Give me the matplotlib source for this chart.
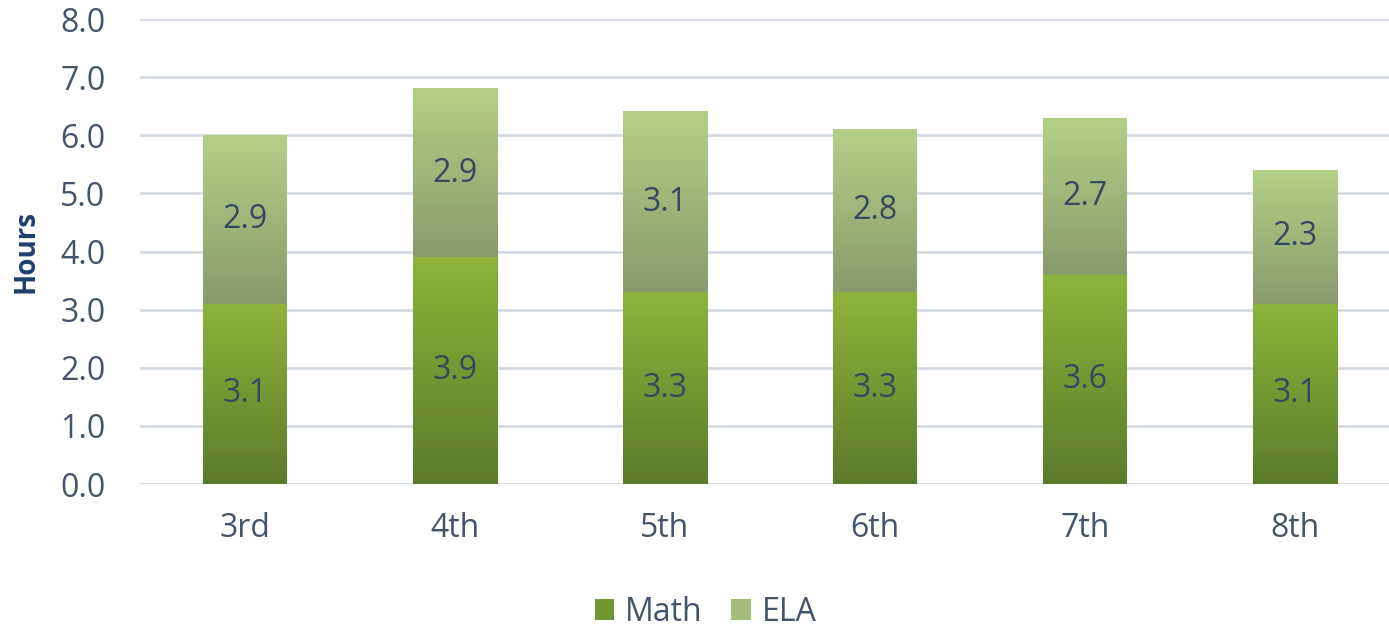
import numpy as np
import matplotlib
matplotlib.use('Agg')
import matplotlib.pyplot as plt
from matplotlib.colors import LinearSegmentedColormap
from matplotlib.patches import Patch

grades = ['3rd', '4th', '5th', '6th', '7th', '8th']
math_hours = [3.1, 3.9, 3.3, 3.3, 3.6, 3.1]
ela_hours = [2.9, 2.9, 3.1, 2.8, 2.7, 2.3]

plt.rcParams['font.family'] = ['Open Sans', 'DejaVu Sans']
text_col = '#44546a'
label_col = '#34495e'

math_cmap = LinearSegmentedColormap.from_list('m', ['#5b7b2b', '#8cb43a'])
ela_cmap = LinearSegmentedColormap.from_list('e', ['#8a9a6c', '#b4d087'])

fig = plt.figure(figsize=(13.89, 6.30), dpi=100)
# axes spans a bit past the right edge, like the reference
ax = fig.add_axes([140 / 1389, 0.2317, 1260 / 1389, 0.7381])

x = np.arange(len(grades))
w = 0.40
bars_m = ax.bar(x, math_hours, w, color='none', zorder=3)
bars_e = ax.bar(x, ela_hours, w, bottom=math_hours, color='none', zorder=3)

grad = np.linspace(0, 1, 256).reshape(-1, 1)
for bars, cmap in [(bars_m, math_cmap), (bars_e, ela_cmap)]:
    for b in bars:
        x0, y0 = b.get_x(), b.get_y()
        ax.imshow(grad, cmap=cmap, origin='lower', aspect='auto', zorder=3,
                  extent=(x0, x0 + b.get_width(), y0, y0 + b.get_height()))

for i in range(len(grades)):
    ax.text(x[i], math_hours[i] / 2, f'{math_hours[i]:.1f}', ha='center', va='center',
            fontsize=23, color=label_col, zorder=4)
    ax.text(x[i], math_hours[i] + ela_hours[i] / 2, f'{ela_hours[i]:.1f}', ha='center',
            va='center', fontsize=23, color=label_col, zorder=4)

ax.set_xlim(-0.5, len(grades) - 0.5)
ax.set_ylim(0, 8)
ax.set_yticks(np.arange(0, 9, 1))
ax.set_yticklabels([f'{v:.1f}' for v in np.arange(0, 9, 1)])
ax.set_xticks(x)
ax.set_xticklabels(grades)
ax.tick_params(axis='both', length=0, labelsize=23, labelcolor=text_col)
ax.tick_params(axis='y', pad=25)
ax.tick_params(axis='x', pad=20)
ax.grid(axis='y', color='#d5dbe5', linewidth=2, zorder=0)
ax.set_axisbelow(True)
for s in ax.spines.values():
    s.set_visible(False)
ax.set_ylabel('Hours', fontsize=20, fontweight='bold', color='#1f3f6e', labelpad=14)

handles = [Patch(facecolor='#6f962f', label='Math'), Patch(facecolor='#a3bd78', label='ELA')]
leg = fig.legend(handles=handles, loc='center', bbox_to_anchor=(0.508, 0.028), ncol=2,
                 frameon=False, fontsize=23, handlelength=0.6, handleheight=0.6,
                 handletextpad=0.35, columnspacing=0.9)
for t in leg.get_texts():
    t.set_color(text_col)

fig.savefig('out.png', dpi=100)
